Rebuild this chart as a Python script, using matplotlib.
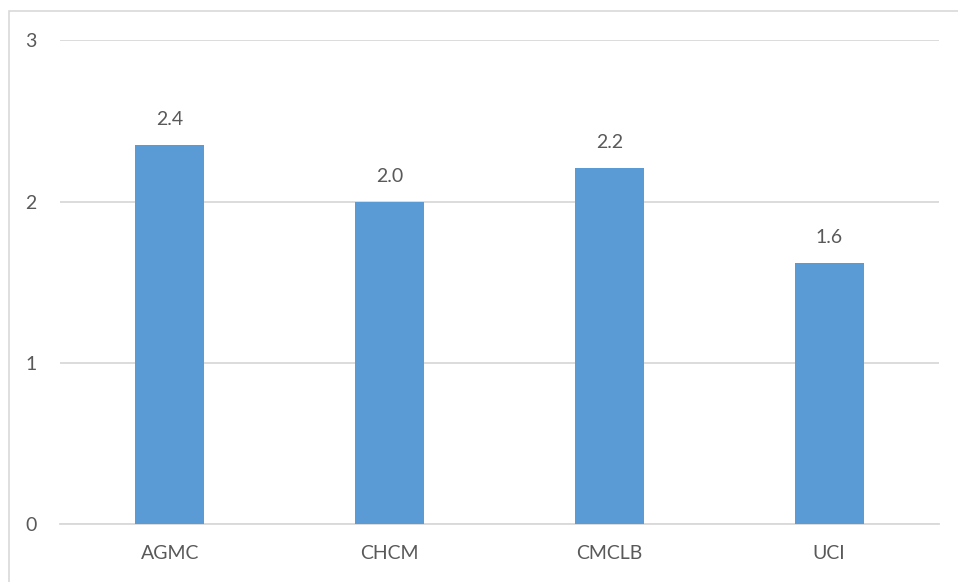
import matplotlib.pyplot as plt
from matplotlib.patches import Rectangle

categories = ['AGMC', 'CHCM', 'CMCLB', 'UCI']
values = [2.35, 2.0, 2.21, 1.62]
yticks = [0, 1, 2, 3]

W, H = 958, 582
bar_color = '#5B9BD5'
text_color = '#595959'
grid_color = '#D9D9D9'

plt.rcParams['font.family'] = ['Lato', 'DejaVu Sans']

fig = plt.figure(figsize=(W / 100, H / 100), dpi=100)
ax = fig.add_axes([60 / W, (H - 524.3) / H, (939 - 60) / W, (524.3 - 40.3) / H])

x = range(len(categories))
ax.bar(x, values, width=0.314, color=bar_color, zorder=3)

for i, v in zip(x, values):
    ax.annotate('%.1f' % v, (i, v), xytext=(0, 12), textcoords='offset points',
                ha='center', va='bottom', fontsize=14, color=text_color)

ax.set_xlim(-0.5, len(categories) - 0.5)
ax.set_ylim(0, 3)
ax.set_yticks(yticks)
ax.set_xticks(list(x))
ax.set_xticklabels(categories)
ax.yaxis.grid(True, color=grid_color, linewidth=1.3, zorder=0)
ax.tick_params(axis='both', length=0, labelsize=14, labelcolor=text_color)
ax.tick_params(axis='y', pad=17)
ax.tick_params(axis='x', pad=15)
for side in ['left', 'right', 'top']:
    ax.spines[side].set_visible(False)
ax.spines['bottom'].set_color(grid_color)
ax.spines['bottom'].set_linewidth(1.3)

# chart area border
fig.patches.append(Rectangle((8.5 / W, -0.1), 1.2, (H - 11) / H + 0.1,
                             transform=fig.transFigure, fill=False,
                             edgecolor=grid_color, linewidth=1.2))

fig.savefig('out.png', dpi=100, facecolor='white')
